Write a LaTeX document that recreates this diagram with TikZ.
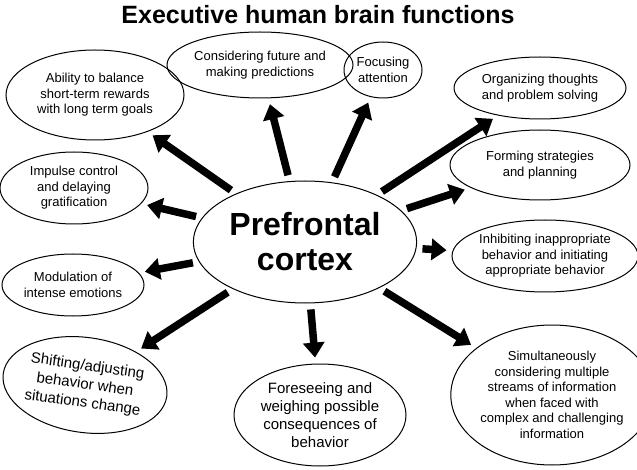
\documentclass[tikz,border=0pt]{standalone}
\usepackage{fontspec}
\setmainfont{Liberation Sans}
\usetikzlibrary{shapes.geometric}
\usetikzlibrary{arrows.meta}
\tikzset{
  func/.style={ellipse, draw=black, line width=1pt, align=center, inner sep=0pt, font=\fontsize{13}{15.5}\selectfont},
  bigarrow/.style={line width=7.5pt, -{Triangle[length=15pt, width=21pt]}, shorten <=6pt, shorten >=6pt}
}
\begin{document}
\begin{tikzpicture}[x=1pt, y=-1pt]
		\useasboundingbox (0,0) rectangle (637,470);
		\node[font=\bfseries\fontsize{25}{28}\selectfont](title) at (318,15){Executive human brain functions};
		\node[ellipse, draw=black, line width=1pt, minimum width=198pt, minimum height=122pt, align=center, font=\bfseries\fontsize{32}{35}\selectfont](pfc) at (305,242){Prefrontal\\cortex};
		\node[func, minimum width=178pt, minimum height=90pt](balance) at (95,95){Ability to balance\\short-term rewards\\with long term goals};
		\node[func, minimum width=168pt, minimum height=66pt](future) at (260,65){Considering future and\\making predictions};
		\node[func, minimum width=78pt, minimum height=56pt](focus) at (383,70){Focusing\\attention};
		\node[func, minimum width=172pt, minimum height=62pt](organize) at (540,88){Organizing thoughts\\and problem solving};
		\node[func, minimum width=180pt, minimum height=70pt](strategy) at (540,165){Forming strategies\\and planning};
		\node[func, minimum width=148pt, minimum height=72pt](impulse) at (74,188){Impulse control\\and delaying\\gratification};
		\node[func, minimum width=142pt, minimum height=62pt](emotion) at (73,285){Modulation of\\intense emotions};
		\node[func, minimum width=182pt, minimum height=72pt](inhibit) at (545,256){Inhibiting inappropriate\\behavior and initiating\\appropriate behavior};
		\node[func, rotate=-8, minimum width=160pt, minimum height=95pt, font=\fontsize{15}{18.5}\selectfont](shift) at (85,385){Shifting/adjusting\\behavior when\\situations change};
		\node[func, minimum width=172pt, minimum height=102pt, font=\fontsize{15}{18}\selectfont](foresee) at (320,415){Foreseeing and\\weighing possible\\consequences of\\behavior};
		\node[func, minimum width=165pt, minimum height=140pt](multi) at (552,395){Simultaneously\\considering multiple\\streams of information\\when faced with\\complex and challenging\\information};
		\draw[bigarrow] (pfc) -- (balance);
		\draw[bigarrow] (pfc) -- (future);
		\draw[bigarrow] (pfc) -- (focus);
		\draw[bigarrow] (pfc) -- (organize);
		\draw[bigarrow] (pfc) -- (strategy);
		\draw[bigarrow] (pfc) -- (impulse);
		\draw[bigarrow] (pfc) -- (emotion);
		\draw[bigarrow] (pfc) -- (inhibit);
		\draw[bigarrow] (pfc) -- (shift);
		\draw[bigarrow] (pfc) -- (foresee);
		\draw[bigarrow] (pfc) -- (multi);
	\end{tikzpicture}
\end{document}
